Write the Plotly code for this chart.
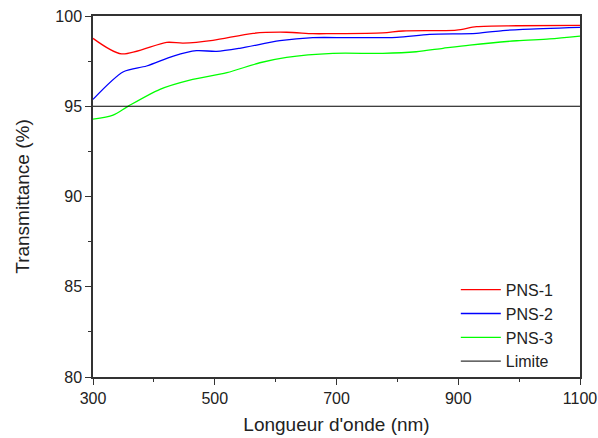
import plotly.graph_objects as go

wl1 = [300, 347, 421, 448, 497, 563, 618, 661, 689, 776, 809, 897, 930, 996, 1100]
pns1 = [98.76, 97.9, 98.54, 98.5, 98.65, 99.04, 99.1, 99.02, 99.02, 99.06, 99.17, 99.22, 99.41, 99.46, 99.48]

wl2 = [300, 350, 388, 432, 470, 503, 541, 607, 661, 722, 799, 853, 930, 973, 1006, 1100]
pns2 = [95.38, 96.91, 97.23, 97.78, 98.08, 98.04, 98.21, 98.63, 98.8, 98.8, 98.82, 98.98, 99.04, 99.19, 99.26, 99.37]

wl3 = [300, 333, 358, 410, 459, 520, 574, 618, 694, 776, 831, 875, 919, 996, 1050, 1100]
pns3 = [94.29, 94.51, 95.01, 95.94, 96.45, 96.86, 97.41, 97.71, 97.93, 97.93, 98.02, 98.21, 98.39, 98.63, 98.73, 98.89]

limite_x = [300, 1100]
limite_y = [95, 95]

x_ticks = [300, 500, 700, 900, 1100]
y_ticks = [80, 85, 90, 95, 100]

FONT = "Liberation Sans"

fig = go.Figure()
fig.add_trace(go.Scatter(x=wl1, y=pns1, mode="lines", name="PNS-1",
                         line=dict(color="#ff0000", width=1.3, shape="spline", smoothing=0.8)))
fig.add_trace(go.Scatter(x=wl2, y=pns2, mode="lines", name="PNS-2",
                         line=dict(color="#0000ff", width=1.3, shape="spline", smoothing=0.8)))
fig.add_trace(go.Scatter(x=wl3, y=pns3, mode="lines", name="PNS-3",
                         line=dict(color="#00ff00", width=1.3, shape="spline", smoothing=0.8)))
fig.add_trace(go.Scatter(x=limite_x, y=limite_y, mode="lines", name="Limite",
                         line=dict(color="#000000", width=1)))

axis_common = dict(
    showline=True, linecolor="#333333", linewidth=1.5, mirror=True, automargin=False,
    showgrid=False, zeroline=False, ticks="outside", ticklen=6, tickwidth=1.3,
    tickcolor="#333333", tickfont=dict(family=FONT, size=16, color="#222222"),
)

fig.update_layout(
    width=598, height=438,
    margin=dict(l=93, r=18, t=16, b=61),
    paper_bgcolor="white", plot_bgcolor="white",
    font=dict(family=FONT, color="#222222"),
    xaxis=dict(range=[300, 1100], tickvals=x_ticks,
               title=dict(text="Longueur d'onde (nm)", font=dict(family=FONT, size=19), standoff=12),
               minor=dict(ticks="outside", ticklen=3, tickwidth=1.2, tickcolor="#333333", dtick=100, tick0=300),
               **axis_common),
    yaxis=dict(range=[80, 100], tickvals=y_ticks,
               title=dict(text="Transmittance (%)", font=dict(family=FONT, size=19), standoff=21),
               minor=dict(ticks="outside", ticklen=3, tickwidth=1.2, tickcolor="#333333", dtick=2.5, tick0=80),
               **axis_common),
    legend=dict(x=0.745, y=-0.005, xanchor="left", yanchor="bottom",
                bgcolor="rgba(0,0,0,0)", font=dict(family=FONT, size=16, color="#222222"),
                tracegroupgap=0, itemwidth=40),
    showlegend=True,
)

fig.write_html("out.html", config={"displayModeBar": False},
               post_script="document.body.style.margin='0';document.body.style.overflow='hidden';")
